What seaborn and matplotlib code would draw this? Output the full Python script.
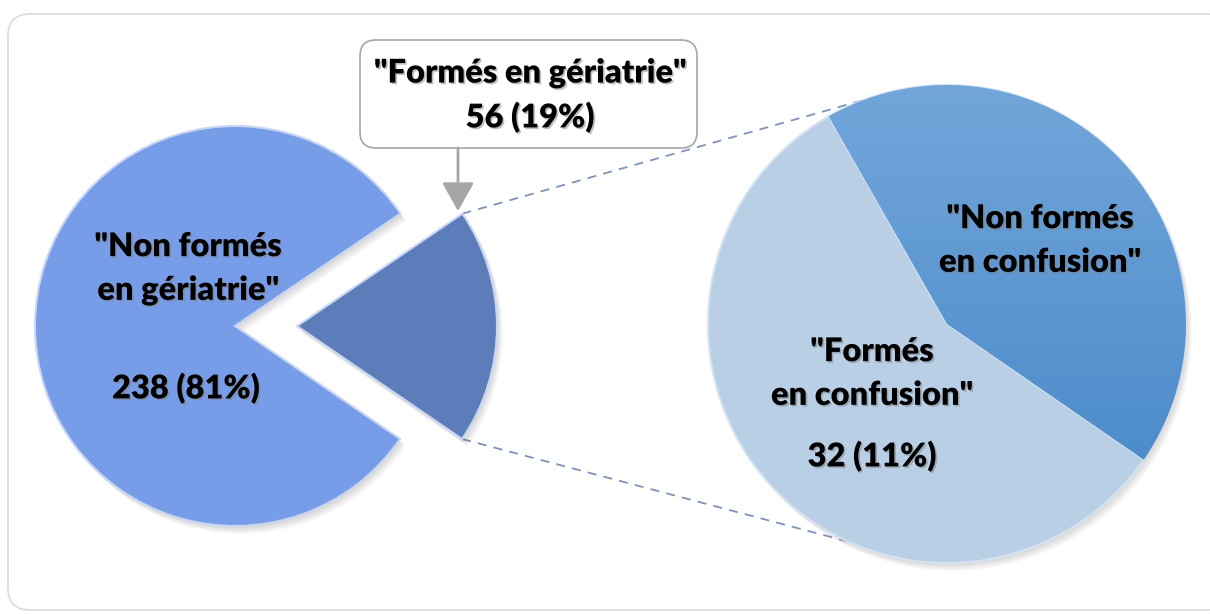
import numpy as np
import matplotlib
matplotlib.use("Agg")
import matplotlib.pyplot as plt
import matplotlib.patheffects as pe
from matplotlib.patches import FancyBboxPatch, Shadow
import seaborn as sns

# data
main_labels = ['"Non formés\nen gériatrie"', '"Formés en gériatrie"']
main_values = [238, 56]
main_pcts = [81, 19]
sub_labels = ['"Non formés\nen confusion"', '"Formés\nen confusion"']
sub_values = [24, 32]
sub_pcts = [8, 11]

sns.set_style("white")
plt.rcParams['font.family'] = ['Lato', 'DejaVu Sans']

fig = plt.figure(figsize=(12.1, 6.14), dpi=100)
ax = fig.add_axes([0, 0, 1, 1])
ax.set_xlim(0, 1210)
ax.set_ylim(0, 614)
ax.set_aspect('equal')
ax.axis('off')

# outer rounded frame
ax.add_patch(FancyBboxPatch((8, 4), 1220, 596, boxstyle="round,pad=0,rounding_size=22",
                            fc='white', ec='#D9D9D9', lw=1.2, zorder=0))

txt_fx = [pe.withSimplePatchShadow(offset=(1.2, -1.2), shadow_rgbFace='#808080', alpha=0.5)]

# main pie (explode is in data units, so scale by radius)
left_center, left_r = (235, 288), 200
main_colors = ['#789DE8', '#5C7DB9']
wedges_l, _ = ax.pie(main_values, colors=main_colors, startangle=34.2, counterclock=True,
                     explode=[0, 0.31 * left_r], center=left_center, radius=left_r,
                     wedgeprops=dict(edgecolor='#C9D6F2', linewidth=1.5, zorder=2))

# sub pie
right_center, right_r = (947, 290), 239
sub_colors = ['#5B9AD6', '#B8CFE5']
wedges_r, _ = ax.pie(sub_values, colors=sub_colors, startangle=-34.6, counterclock=True,
                     center=right_center, radius=right_r,
                     wedgeprops=dict(edgecolor='#D5E2F0', linewidth=1.5, zorder=2))

# soft shadows: a few stacked, offset, translucent copies
for w in list(wedges_l) + list(wedges_r):
    for k in range(1, 6):
        s = Shadow(w, 0.8 * k, -1.1 * k, fc='#606060', ec='none', alpha=0.05, zorder=1)
        ax.add_patch(s)

# gradient on dark wedge of the sub pie
grad = np.linspace(0, 1, 256).reshape(-1, 1)
cmap = matplotlib.colors.LinearSegmentedColormap.from_list('g', ['#72A6DA', '#4385C7'])
cx, cy = right_center
im = ax.imshow(grad, cmap=cmap, extent=(cx - right_r, cx + right_r, cy - right_r, cy + right_r),
               origin='upper', aspect='auto', zorder=2.1)
im.set_clip_path(wedges_r[0])
ax.set_xlim(0, 1210)
ax.set_ylim(0, 614)

# connector lines from exploded slice to sub pie
w = wedges_l[1]
for th_l, th_r in [(w.theta2, 110.5), (w.theta1, 245.5)]:
    x0 = w.center[0] + w.r * np.cos(np.radians(th_l))
    y0 = w.center[1] + w.r * np.sin(np.radians(th_l))
    x1 = cx + right_r * np.cos(np.radians(th_r))
    y1 = cy + right_r * np.sin(np.radians(th_r))
    ax.plot([x0, x1], [y0, y1], ls=(0, (5, 4)), color='#7F93B5', lw=1.3, zorder=0.5)

# labels
tk = dict(fontsize=23.5, fontweight='heavy', ha='center', va='center', color='black',
          linespacing=1.45, path_effects=txt_fx, zorder=10)
ax.text(188, 346, main_labels[0], **tk)
ax.text(186, 226, f"{main_values[0]} ({main_pcts[0]}%)", **tk)
ax.text(1040, 374, sub_labels[0], **tk)
ax.text(872, 241, sub_labels[1], **tk)
ax.text(872, 158, f"{sub_values[1]} ({sub_pcts[1]}%)", **tk)

# callout box
ax.add_patch(FancyBboxPatch((360, 466), 337, 108, boxstyle="round,pad=0,rounding_size=16",
                            fc='white', ec='#A6A6A6', lw=1.2, zorder=8))
ax.text(530, 519, f"{main_labels[1]}\n{main_values[1]} ({main_pcts[1]}%)", **tk)
ax.annotate('', xy=(458, 403), xytext=(458, 466), zorder=9,
            arrowprops=dict(arrowstyle='-|>,head_width=0.45,head_length=0.8',
                            color='#A6A6A6', lw=2, mutation_scale=22, shrinkA=0, shrinkB=0))

fig.savefig('out.png', dpi=100)
